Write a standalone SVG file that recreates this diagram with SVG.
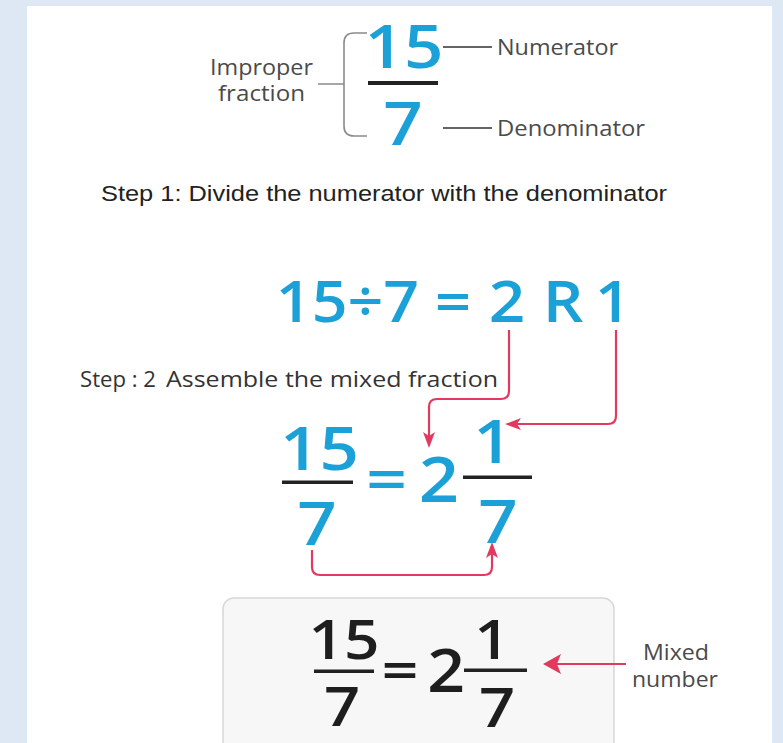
<svg xmlns="http://www.w3.org/2000/svg" width="783" height="743" viewBox="0 0 783 743">
<defs>
<style>
.lbl{font-family:"Open Sans","Noto Sans",sans-serif;font-size:21px;fill:#4a4a4a}
.step{font-family:"Open Sans","Noto Sans",sans-serif;font-size:22px;fill:#333}
.blue{font-family:"Open Sans","Noto Sans",sans-serif;font-weight:600;fill:#1ba1d7;text-anchor:middle}
.dark{font-family:"Open Sans","Noto Sans",sans-serif;font-weight:600;fill:#1e1e1e;text-anchor:middle}
.gline{fill:none;stroke:#8a8a8a;stroke-width:1.6}
.kline{fill:none;stroke:#333;stroke-width:1.5}
.conn{fill:none;stroke:#e2395f;stroke-width:2.2}
.bar{fill:#222}
</style>
<marker id="ah" viewBox="0 0 16 12" refX="4" refY="6" markerWidth="16" markerHeight="12" markerUnits="userSpaceOnUse" orient="auto">
<path d="M0,0 L16,6 L0,12 L4,6 Z" fill="#e2395f"/>
</marker>
<marker id="ahL" viewBox="0 0 18 20" refX="4" refY="10" markerWidth="18" markerHeight="20" markerUnits="userSpaceOnUse" orient="auto">
<path d="M0,0 L18,10 L0,20 L4,10 Z" fill="#e2395f"/>
</marker>
</defs>
<rect x="0" y="0" width="783" height="743" fill="#dde8f4"/>
<rect x="27" y="6" width="745" height="737" fill="#ffffff"/>

<g id="improper-fraction">
<text class="lbl" x="210" y="75" textLength="103" lengthAdjust="spacingAndGlyphs">Improper</text>
<text class="lbl" x="218" y="101" textLength="87" lengthAdjust="spacingAndGlyphs">fraction</text>
<path class="gline" d="M318,84 H344 M367,33 H354 Q344,33 344,43 V126 Q344,136 354,136 H367"/>
<text class="blue" font-size="60" transform="translate(404,68) scale(1.15,1)">15</text>
<rect class="bar" x="368" y="81" width="70" height="4"/>
<text class="blue" font-size="60" transform="translate(403,145) scale(1.15,1)">7</text>
<path class="kline" d="M443,47 H492 M443,128 H492"/>
<text class="lbl" x="497" y="55" textLength="121" lengthAdjust="spacingAndGlyphs">Numerator</text>
<text class="lbl" x="497" y="136" textLength="148" lengthAdjust="spacingAndGlyphs">Denominator</text>
</g>

<g id="step1">
<text x="101" y="201" font-family="'Liberation Sans',Arial,sans-serif" font-size="22" fill="#222" textLength="566" lengthAdjust="spacingAndGlyphs">Step 1: Divide the numerator with the denominator</text>
</g>

<g id="division">
<text class="blue" font-size="58" transform="translate(347.5,322) scale(1.08,1)">15÷7</text>
<text class="blue" font-size="58" transform="translate(453,322) scale(1.1,1)">=</text>
<text class="blue" font-size="58" transform="translate(507,322) scale(1.1,1)">2</text>
<text class="blue" font-size="58" transform="translate(563,322) scale(1.1,1)">R</text>
<text class="blue" font-size="58" transform="translate(613,322) scale(1.1,1)">1</text>
</g>

<g id="step2">
<text class="step" x="80" y="387" textLength="76" lengthAdjust="spacingAndGlyphs">Step : 2</text>
<text class="step" x="166" y="387" textLength="332" lengthAdjust="spacingAndGlyphs">Assemble the mixed fraction</text>
</g>

<g id="assembled">
<text class="blue" font-size="60" transform="translate(319.5,470) scale(1.15,1)">15</text>
<rect class="bar" x="282" y="480.5" width="71" height="3.5"/>
<text class="blue" font-size="60" transform="translate(317,545) scale(1.15,1)">7</text>
<text class="blue" font-size="60" transform="translate(386.5,501) scale(1.2,1)">=</text>
<text class="blue" font-size="64" transform="translate(439,502) scale(1.1,1)">2</text>
<text class="blue" font-size="60" transform="translate(493,463) scale(1.15,1)">1</text>
<rect class="bar" x="463" y="475.5" width="69" height="3.5"/>
<text class="blue" font-size="60" transform="translate(498,543) scale(1.15,1)">7</text>
</g>

<g id="result-box">
<rect x="223" y="598" width="391" height="160" rx="11" fill="#f7f7f7" stroke="#d8d8d8" stroke-width="1.5"/>
<text class="dark" font-size="54" transform="translate(344,659) scale(1.15,1)">15</text>
<rect class="bar" x="314" y="669.5" width="60" height="3.5"/>
<text class="dark" font-size="55" transform="translate(342,726) scale(1.15,1)">7</text>
<text class="dark" font-size="54" transform="translate(400,690) scale(1.2,1)">=</text>
<text class="dark" font-size="60" transform="translate(446,692) scale(1.1,1)">2</text>
<text class="dark" font-size="54" transform="translate(492,659) scale(1.15,1)">1</text>
<rect class="bar" x="464" y="668.5" width="63" height="3.5"/>
<text class="dark" font-size="55" transform="translate(497,727) scale(1.15,1)">7</text>
</g>

<g id="mixed-number-label">
<text class="lbl" font-size="20" x="643" y="660" textLength="66" lengthAdjust="spacingAndGlyphs">Mixed</text>
<text class="lbl" font-size="20" x="632" y="687" textLength="86" lengthAdjust="spacingAndGlyphs">number</text>
</g>

<g id="connectors">
<path class="conn" marker-end="url(#ah)" d="M509,330 V391 Q509,399 501,399 H437 Q429,399 429,407 V436"/>
<path class="conn" marker-end="url(#ah)" d="M616,330 V416 Q616,424 608,424 H517"/>
<path class="conn" marker-end="url(#ah)" d="M312,550 V567 Q312,575 320,575 H484 Q492,575 492,567 V554"/>
<path class="conn" marker-end="url(#ahL)" d="M626,664 H557"/>
</g>
</svg>
